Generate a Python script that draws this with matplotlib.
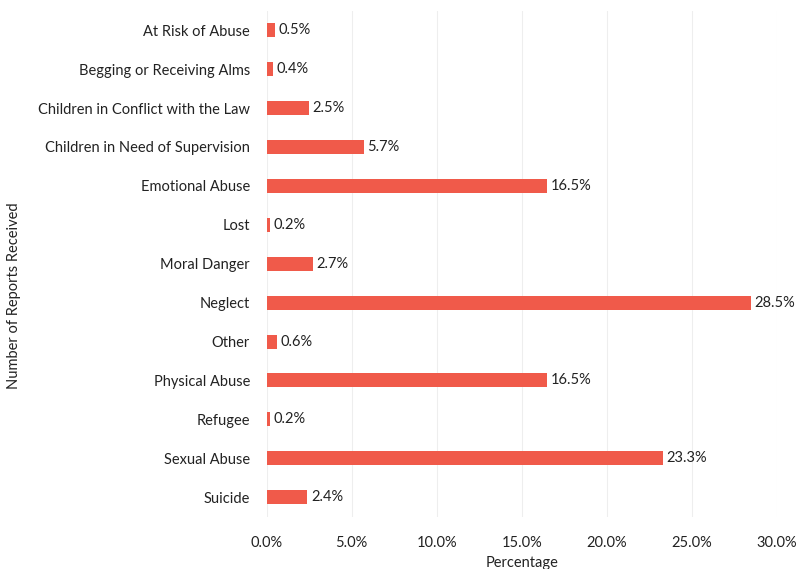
import numpy as np
import matplotlib.pyplot as plt
from matplotlib import ticker

plt.rcParams['font.family'] = ['Lato', 'DejaVu Sans']

categories = ['At Risk of Abuse', 'Begging or Receiving Alms', 'Children in Conflict with the Law',
              'Children in Need of Supervision', 'Emotional Abuse', 'Lost', 'Moral Danger',
              'Neglect', 'Other', 'Physical Abuse', 'Refugee', 'Sexual Abuse', 'Suicide']
percent = [0.5, 0.4, 2.5, 5.7, 16.5, 0.2, 2.7, 28.5, 0.6, 16.5, 0.2, 23.3, 2.4]
xticks = [0, 5, 10, 15, 20, 25, 30]

fig = plt.figure(figsize=(7.96, 5.69), dpi=100)
ax = fig.add_axes([0.335, 0.092, 0.641, 0.889])

y = np.arange(len(categories))
bars = ax.barh(y, percent, height=0.36, color='#F05A4A', zorder=3)
for b, v in zip(bars, percent):
    ax.text(b.get_width() + 0.2, b.get_y() + b.get_height()/2, f'{v:.1f}%',
            va='center', ha='left', fontsize=10.5, color='#222222')

ax.set_yticks(y)
ax.set_yticklabels(categories, fontsize=10.5, color='#222222')
ax.set_ylim(len(categories) - 0.5, -0.5)
ax.set_xlim(0, 30)
ax.set_xticks(xticks)
ax.xaxis.set_major_formatter(ticker.FuncFormatter(lambda v, p: f'{v:.1f}%'))
ax.tick_params(axis='x', labelsize=10.5, colors='#222222', length=0, pad=14)
ax.tick_params(axis='y', length=0, pad=12)
ax.grid(axis='x', color='#EEEEEE', linewidth=0.8, zorder=0)
for s in ax.spines.values():
    s.set_visible(False)

ax.set_xlabel('Percentage', fontsize=10.5, color='#222222', labelpad=4)
fig.text(0.018, 0.48, 'Number of Reports Received', rotation=90, va='center', ha='center',
         fontsize=10.5, color='#222222')

fig.savefig('out.png', dpi=100)
